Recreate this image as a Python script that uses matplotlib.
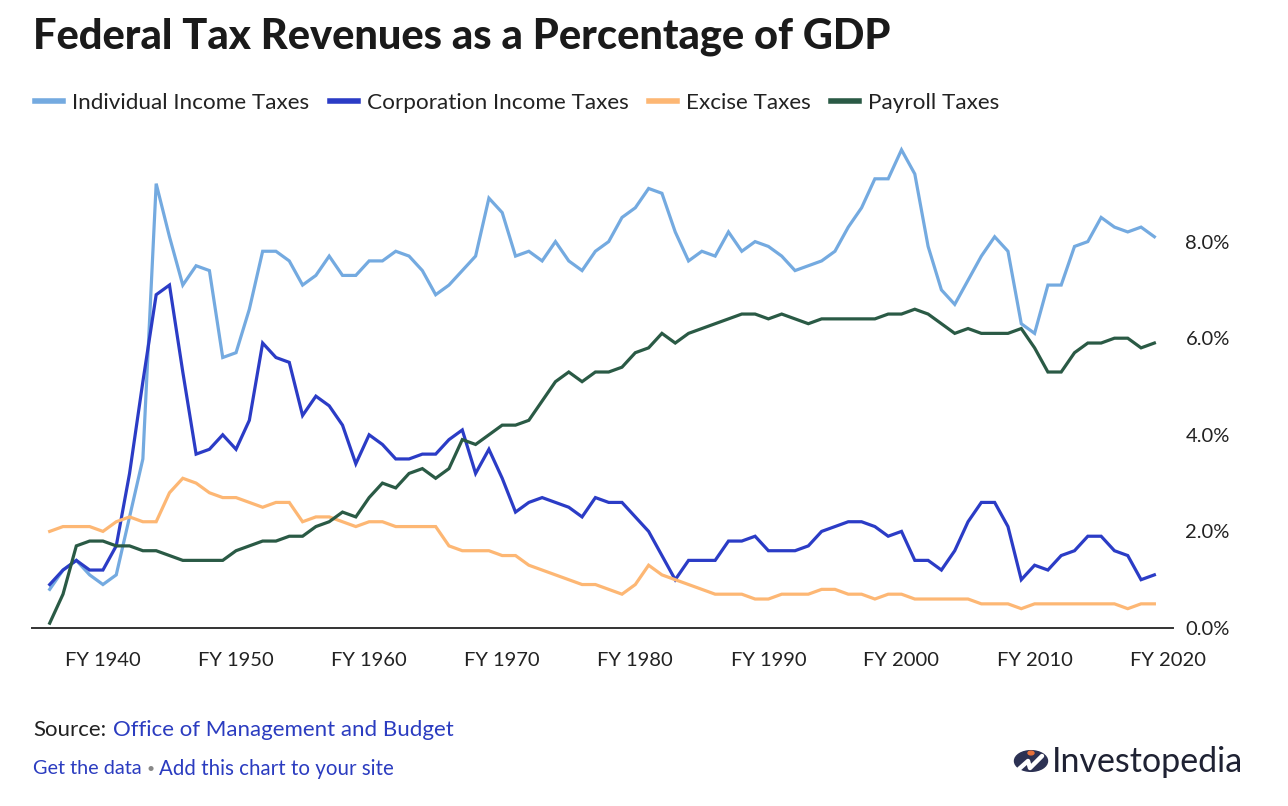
# -*- coding: utf-8 -*-

import numpy as np
import matplotlib
matplotlib.use('Agg')
import matplotlib.pyplot as plt
from matplotlib.patches import Circle
from matplotlib.lines import Line2D

# fiscal years 1936 - 2019
years = list(range(1936, 2020))

individual = [0.8, 1.2, 1.4, 1.1, 0.9, 1.1, 2.3, 3.5, 9.2, 8.1, 7.1, 7.5, 7.4, 5.6, 5.7,
              6.6, 7.8, 7.8, 7.6, 7.1, 7.3, 7.7, 7.3, 7.3, 7.6, 7.6, 7.8, 7.7, 7.4, 6.9,
              7.1, 7.4, 7.7, 8.9, 8.6, 7.7, 7.8, 7.6, 8.0, 7.6, 7.4, 7.8, 8.0, 8.5, 8.7,
              9.1, 9.0, 8.2, 7.6, 7.8, 7.7, 8.2, 7.8, 8.0, 7.9, 7.7, 7.4, 7.5, 7.6, 7.8,
              8.3, 8.7, 9.3, 9.3, 9.9, 9.4, 7.9, 7.0, 6.7, 7.2, 7.7, 8.1, 7.8, 6.3, 6.1,
              7.1, 7.1, 7.9, 8.0, 8.5, 8.3, 8.2, 8.3, 8.1]

corporation = [0.9, 1.2, 1.4, 1.2, 1.2, 1.7, 3.2, 5.1, 6.9, 7.1, 5.3, 3.6, 3.7, 4.0, 3.7,
               4.3, 5.9, 5.6, 5.5, 4.4, 4.8, 4.6, 4.2, 3.4, 4.0, 3.8, 3.5, 3.5, 3.6, 3.6,
               3.9, 4.1, 3.2, 3.7, 3.1, 2.4, 2.6, 2.7, 2.6, 2.5, 2.3, 2.7, 2.6, 2.6, 2.3,
               2.0, 1.5, 1.0, 1.4, 1.4, 1.4, 1.8, 1.8, 1.9, 1.6, 1.6, 1.6, 1.7, 2.0, 2.1,
               2.2, 2.2, 2.1, 1.9, 2.0, 1.4, 1.4, 1.2, 1.6, 2.2, 2.6, 2.6, 2.1, 1.0, 1.3,
               1.2, 1.5, 1.6, 1.9, 1.9, 1.6, 1.5, 1.0, 1.1]

excise = [2.0, 2.1, 2.1, 2.1, 2.0, 2.2, 2.3, 2.2, 2.2, 2.8, 3.1, 3.0, 2.8, 2.7, 2.7,
          2.6, 2.5, 2.6, 2.6, 2.2, 2.3, 2.3, 2.2, 2.1, 2.2, 2.2, 2.1, 2.1, 2.1, 2.1,
          1.7, 1.6, 1.6, 1.6, 1.5, 1.5, 1.3, 1.2, 1.1, 1.0, 0.9, 0.9, 0.8, 0.7, 0.9,
          1.3, 1.1, 1.0, 0.9, 0.8, 0.7, 0.7, 0.7, 0.6, 0.6, 0.7, 0.7, 0.7, 0.8, 0.8,
          0.7, 0.7, 0.6, 0.7, 0.7, 0.6, 0.6, 0.6, 0.6, 0.6, 0.5, 0.5, 0.5, 0.4, 0.5,
          0.5, 0.5, 0.5, 0.5, 0.5, 0.5, 0.4, 0.5, 0.5]

payroll = [0.1, 0.7, 1.7, 1.8, 1.8, 1.7, 1.7, 1.6, 1.6, 1.5, 1.4, 1.4, 1.4, 1.4, 1.6,
           1.7, 1.8, 1.8, 1.9, 1.9, 2.1, 2.2, 2.4, 2.3, 2.7, 3.0, 2.9, 3.2, 3.3, 3.1,
           3.3, 3.9, 3.8, 4.0, 4.2, 4.2, 4.3, 4.7, 5.1, 5.3, 5.1, 5.3, 5.3, 5.4, 5.7,
           5.8, 6.1, 5.9, 6.1, 6.2, 6.3, 6.4, 6.5, 6.5, 6.4, 6.5, 6.4, 6.3, 6.4, 6.4,
           6.4, 6.4, 6.4, 6.5, 6.5, 6.6, 6.5, 6.3, 6.1, 6.2, 6.1, 6.1, 6.1, 6.2, 5.8,
           5.3, 5.3, 5.7, 5.9, 5.9, 6.0, 6.0, 5.8, 5.9]

series_names = ['Individual Income Taxes', 'Corporation Income Taxes', 'Excise Taxes', 'Payroll Taxes']
series_colors = ['#74aae0', '#2b3cc6', '#fdb774', '#2a5a45']

x_ticks = [1940, 1950, 1960, 1970, 1980, 1990, 2000, 2010, 2020]
y_ticks = [0, 2, 4, 6, 8]

W, H = 1288, 806
FONT = 'Lato'
LINK = '#2b3cc0'


def fx(px):
    return px / W


def fy(py):
    return 1 - py / H


def main():
    plt.rcParams['font.family'] = [FONT, 'DejaVu Sans']

    fig = plt.figure(figsize=(W / 100, H / 100), dpi=100)
    ax = fig.add_axes([fx(32), fy(628), fx(1173) - fx(32), fy(145) - fy(628)])

    for vals, c in zip([individual, corporation, excise, payroll], series_colors):
        ax.plot(years, vals, color=c, linewidth=2.3, solid_joinstyle='miter')

    ax.set_xlim(1934.67, 2020.4)
    ax.set_ylim(0, 10)

    for s in ['top', 'left', 'right']:
        ax.spines[s].set_visible(False)
    ax.spines['bottom'].set_color('#333333')
    ax.spines['bottom'].set_linewidth(1.4)

    ax.set_xticks(x_ticks)
    ax.set_xticklabels(['FY %d' % y for y in x_ticks])
    ax.set_yticks(y_ticks)
    ax.set_yticklabels(['%.1f%%' % v for v in y_ticks])
    ax.yaxis.tick_right()
    ax.tick_params(axis='both', length=0, labelsize=14.5, colors='#222222')
    ax.tick_params(axis='x', pad=17)
    ax.tick_params(axis='y', pad=9)

    # title
    fig.text(fx(33), fy(37), 'Federal Tax Revenues as a Percentage of GDP',
             fontsize=30, fontweight='black', color='#1a1a1a', va='center', ha='left')

    # legend
    handles = [Line2D([], [], color=c, linewidth=4) for c in series_colors]
    fig.legend(handles, series_names, loc='center left', bbox_to_anchor=(fx(26), fy(103)),
               ncol=4, frameon=False, fontsize=16.2, handlelength=1.25, handletextpad=0.4,
               columnspacing=0.9, borderaxespad=0, labelcolor='#222222')

    # source / footer
    fig.text(fx(33), fy(730), 'Source:', fontsize=16, color='#222222', va='center')
    fig.text(fx(113), fy(730), 'Office of Management and Budget', fontsize=16, color=LINK, va='center')
    fig.text(fx(33), fy(769), 'Get the data', fontsize=14.3, color=LINK, va='center')
    fig.text(fx(147), fy(769), '\u2022', fontsize=10, color='#888888', va='center')
    fig.text(fx(159), fy(769), 'Add this chart to your site', fontsize=14.8, color=LINK, va='center')

    # logo
    logo = Circle((fx(1031), fy(761)), 16.5 / W, transform=fig.transFigure, color='#2c3153')
    fig.patches.append(logo)
    zig = Line2D([fx(1019), fx(1028), fx(1030), fx(1042)], [fy(769), fy(761), fy(768), fy(756)],
                 transform=fig.transFigure, color='white', linewidth=3.2, solid_capstyle='round')
    fig.lines.append(zig)
    dot = Circle((fx(1031), fy(753)), 3 / W, transform=fig.transFigure, color='#e8713a')
    fig.patches.append(dot)
    fig.text(fx(1052), fy(762), 'Investopedia', fontsize=24.5, color='#1f2233', va='center')

    fig.savefig('out.png', dpi=100, facecolor='white')


if __name__ == '__main__':
    main()
